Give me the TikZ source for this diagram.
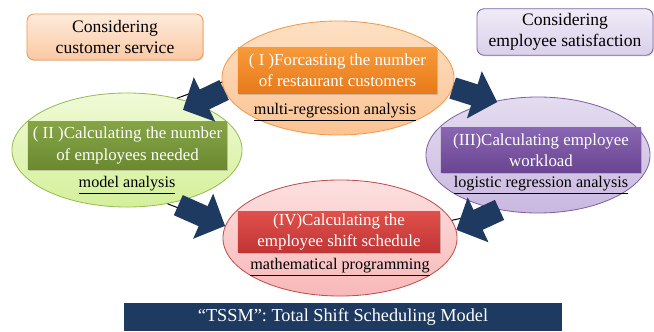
\documentclass[tikz,border=0pt]{standalone}
\usepackage{fontspec}
\setmainfont{Liberation Serif}
\usetikzlibrary{arrows.meta,shapes.geometric,shadows}

\definecolor{navyblue}{HTML}{1F3A60}
\definecolor{orgline}{HTML}{F39A4C}
\definecolor{grnline}{HTML}{9BBB59}
\definecolor{purline}{HTML}{8064A2}
\definecolor{redline}{HTML}{C0504D}
% fills, top and bottom
\definecolor{orgtop}{HTML}{FDE0C4}\definecolor{orgbot}{HTML}{FBC393}
\definecolor{grntop}{HTML}{F0FAD6}\definecolor{grnbot}{HTML}{D4F09A}
\definecolor{purtop}{HTML}{E4DCF0}\definecolor{purbot}{HTML}{C9B8E0}
\definecolor{redtop}{HTML}{FDE0E0}\definecolor{redbot}{HTML}{F8B8B8}
\definecolor{orgboxtop}{HTML}{F79A3A}\definecolor{orgboxbot}{HTML}{E87A1A}
\definecolor{grnboxtop}{HTML}{86A446}\definecolor{grnboxbot}{HTML}{6B8A30}
\definecolor{purboxtop}{HTML}{8966B2}\definecolor{purboxbot}{HTML}{6A4592}
\definecolor{redboxtop}{HTML}{E0504A}\definecolor{redboxbot}{HTML}{C03535}
\definecolor{custtop}{HTML}{FDEBDC}\definecolor{custbot}{HTML}{FBC9A2}
\definecolor{stafftop}{HTML}{F0EBF7}\definecolor{staffbot}{HTML}{DAD0EA}

\tikzset{
  oval/.style={ellipse, draw, line width=0.6pt, inner sep=0pt},
  task/.style={rectangle, text=white, align=center, inner sep=1pt,
    font=\fontsize{12}{15}\selectfont,
    drop shadow={shadow xshift=1pt, shadow yshift=-1.2pt, opacity=0.35}},
  method/.style={font=\fontsize{11.5}{14}\selectfont},
  aim/.style={rectangle, rounded corners=5pt, draw, line width=0.6pt, align=center,
    minimum width=4.4cm, minimum height=1.15cm,
    font=\fontsize{12.5}{15}\selectfont,
    drop shadow={shadow xshift=0.8pt, shadow yshift=-0.8pt, opacity=0.25}},
  fat/.style={line width=0.55cm, draw=navyblue, -{Triangle[length=0.6cm,width=1.2cm]}},
  joint/.style={line width=0.7pt, black}
}

\begin{document}
\begin{tikzpicture}[x=0.025cm, y=-0.025cm]
  \useasboundingbox (0,0) rectangle (654,331);

  % what each side cares about
  \node[aim, top color=custtop, bottom color=custbot, draw=orgline]
    (cust) at (115,37) {Considering\\customer service};
  \node[aim, top color=stafftop, bottom color=staffbot, draw=purline]
    (staff) at (565,32) {Considering\\employee satisfaction};

  % the four steps
  \node[oval, minimum width=5.8cm, minimum height=2.85cm,
    top color=orgtop, bottom color=orgbot, draw=orgline] (e1) at (338,78) {};
  \node[oval, minimum width=5.75cm, minimum height=2.85cm,
    top color=grntop, bottom color=grnbot, draw=grnline] (e2) at (127,150) {};
  \node[oval, minimum width=5.6cm, minimum height=2.9cm,
    top color=purtop, bottom color=purbot, draw=purline] (e3) at (538,155) {};
  \node[oval, minimum width=5.85cm, minimum height=2.9cm,
    top color=redtop, bottom color=redbot, draw=redline] (e4) at (340,238) {};

  \node[task, minimum width=4.975cm, minimum height=1.125cm,
    top color=orgboxtop, bottom color=orgboxbot] (r1) at (337.5,70.5)
    {( I )Forcasting the number\\of restaurant customers};
  \node[task, minimum width=4.975cm, minimum height=1.175cm,
    top color=grnboxtop, bottom color=grnboxbot] (r2) at (127.5,145.5)
    {( II )Calculating the number\\of employees needed};
  \node[task, minimum width=5.0cm, minimum height=1.1cm,
    top color=purboxtop, bottom color=purboxbot] (r3) at (541,150)
    {(III)Calculating employee\\workload};
  \node[task, minimum width=5.05cm, minimum height=1.0cm,
    top color=redboxtop, bottom color=redboxbot] (r4) at (339,232)
    {(IV)Calculating the\\employee shift schedule};

  \node[method] (m1) at (335,112) {\underline{multi-regression analysis}};
  \node[method] (m2) at (127,185) {\underline{model analysis}};
  \node[method] (m3) at (541,185) {\underline{logistic regression analysis}};
  \node[method] (m4) at (340,267) {\underline{mathematical programming}};

  % links and flow
  \draw[joint] (e2.46) -- (e1.182);
  \draw[joint] (e2.-53) -- (e4.174);
  \draw[joint] (e3.235) -- (e4.9);

  \draw[fat, shorten >=-0.35cm] (e1.186) -- (e2.34);
  \draw[fat, shorten >=-0.075cm] (e1.-5) -- (e3.129);
  \draw[fat, shorten <=0.15cm] (e2.-49) -- (e4.174);
  \draw[fat] (e3.235) -- (e4.4.5);

  \node[fill=navyblue, text=white, minimum width=10.95cm, minimum height=0.7cm,
    font=\fontsize{13}{15}\selectfont] (title) at (343,317)
    {“TSSM”: Total Shift Scheduling Model};
\end{tikzpicture}
\end{document}
